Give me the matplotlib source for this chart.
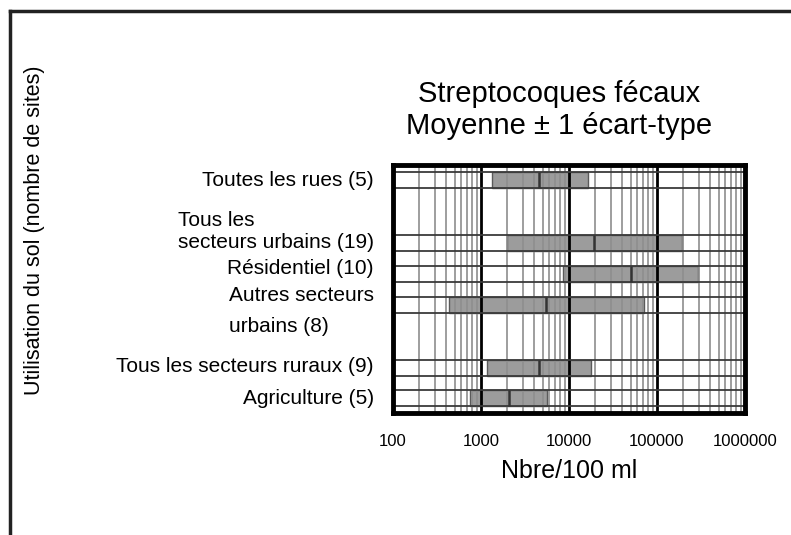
import matplotlib
matplotlib.use("Agg")
import matplotlib.pyplot as plt
from matplotlib.lines import Line2D
from matplotlib.ticker import FixedLocator, NullFormatter, FuncFormatter
import matplotlib.transforms as mtransforms

plt.rcParams['font.family'] = ['Liberation Sans', 'DejaVu Sans']

# Land-use categories (number of sites)
categories = [
    "Toutes les rues (5)",
    "Tous les\nsecteurs urbains (19)",
    "Résidentiel (10)",
    "Autres secteurs\nurbains (8)",
    "Tous les secteurs ruraux (9)",
    "Agriculture (5)",
]
# Fecal streptococci, counts per 100 ml: mean - 1 SD, mean, mean + 1 SD
low = [1320, 1960, 8600, 430, 1180, 750]
mean = [4570, 19400, 50200, 5480, 4570, 2100]
high = [16600, 194000, 290000, 71800, 17700, 5660]

x_ticks = [100, 1000, 10000, 100000, 1000000]
x_tick_labels = ["100", "1000", "10000", "100000", "1000000"]

# Row layout (vertical positions in plot units, top to bottom)
row_centre = [179.5, 243, 273.5, 304.5, 367.5, 398]
row_height = 16
label_y = [181, 231, 269, 311, 367, 398]
label_spacing = [1.2, 1.2, 1.2, 1.78, 1.2, 1.2]

fig = plt.figure(figsize=(7.91, 5.35), dpi=100)
ax = fig.add_axes([393 / 791, 1 - 413 / 535, 352 / 791, 248 / 535])
ax.set_xscale("log")
ax.set_xlim(100, 1000000)
ax.set_ylim(413, 165)

# Bars spanning mean +/- 1 SD, with the mean marked
for yc, lo, m, hi in zip(row_centre, low, mean, high):
    ax.barh(yc, hi - lo, left=lo, height=row_height, color="#9c9c9c",
            edgecolor="#5a5a5a", linewidth=1.0, zorder=1)
    ax.vlines(m, yc - row_height / 2, yc + row_height / 2,
              color="#333333", linewidth=1.8, zorder=4)

# Vertical grid: minor multiples in grey, decades in black
for dec in [100, 1000, 10000, 100000]:
    for k in range(2, 10):
        ax.axvline(dec * k, color="#8e8e8e", linewidth=1.2, zorder=2)
for dec in [1000, 10000, 100000]:
    ax.axvline(dec, color="black", linewidth=2.0, zorder=3)

# Horizontal rules along the bar edges
for yc in row_centre:
    for yy in (yc - row_height / 2, yc + row_height / 2):
        ax.axhline(yy, color="#3a3a3a", linewidth=1.3, zorder=3)

for sp in ax.spines.values():
    sp.set_linewidth(3.5)
    sp.set_color("black")
    sp.set_zorder(5)

ax.xaxis.set_major_locator(FixedLocator(x_ticks))
ax.xaxis.set_major_formatter(FuncFormatter(lambda v, p: x_tick_labels[x_ticks.index(v)] if v in x_ticks else ""))
ax.xaxis.set_minor_formatter(NullFormatter())
ax.tick_params(axis="x", which="both", length=0, pad=15, labelsize=12)
ax.set_yticks([])

ax.set_xlabel("Nbre/100 ml", fontsize=18, labelpad=7)

trans = mtransforms.blended_transform_factory(ax.transAxes, ax.transData)
for lab, yl, ls in zip(categories, label_y, label_spacing):
    ax.text(-0.054, yl, lab, transform=trans, ha="right", va="center",
            multialignment="left", fontsize=15, linespacing=ls)

fig.text(559 / 791, 1 - 110 / 535, "Streptocoques fécaux\nMoyenne ± 1 écart-type",
         ha="center", va="center", fontsize=21, linespacing=1.17)

fig.text(35 / 791, 1 - 230 / 535, "Utilisation du sol (nombre de sites)",
         rotation=90, ha="center", va="center", fontsize=15.5)

# Page frame: top and left rules
fig.add_artist(Line2D([10 / 791, 1.0], [1 - 11 / 535, 1 - 11 / 535],
                      transform=fig.transFigure, color="#222222", linewidth=2.5))
fig.add_artist(Line2D([10 / 791, 10 / 791], [1 - 11 / 535, 0.0],
                      transform=fig.transFigure, color="#222222", linewidth=2.5))

fig.savefig("out.png", dpi=100)
